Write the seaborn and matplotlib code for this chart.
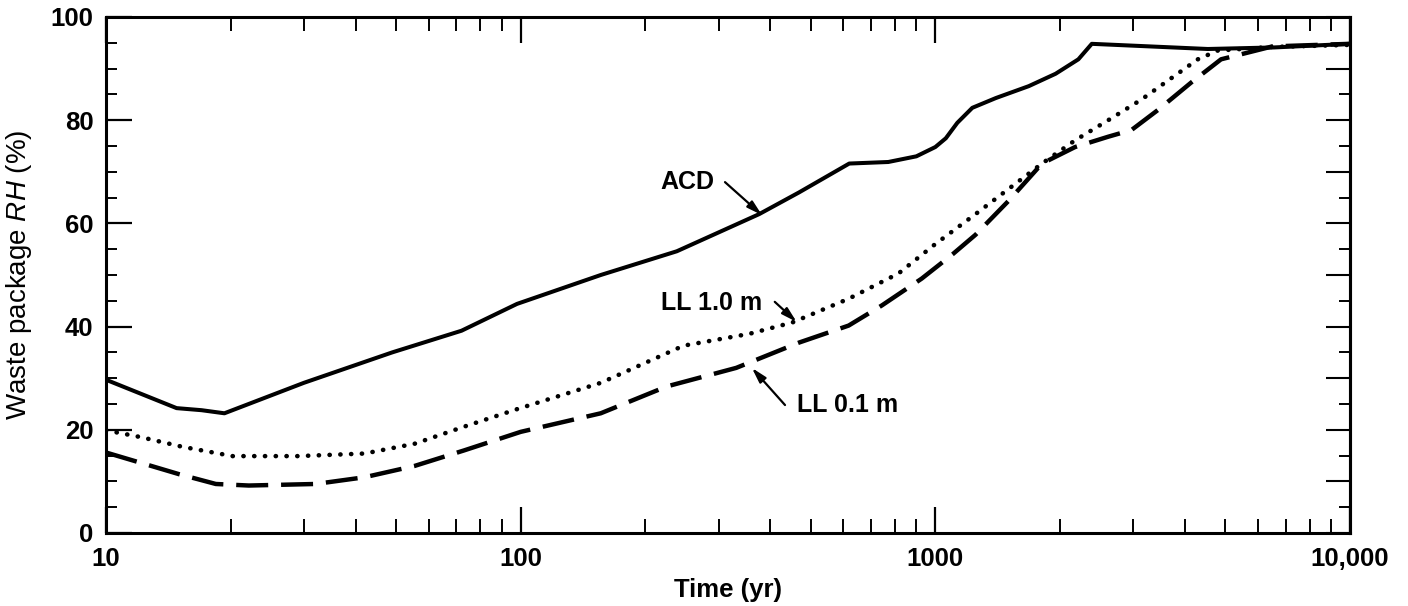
import matplotlib
matplotlib.use("Agg")
import matplotlib.pyplot as plt
from matplotlib.ticker import FixedLocator, FixedFormatter, MultipleLocator, NullFormatter, LogLocator
import seaborn as sns
import pandas as pd

# ---- data ----
acd_t = [10, 14.8, 17, 19.3, 30, 49, 72, 98, 156, 238, 376, 469, 620, 770, 900, 1000, 1060, 1130, 1228, 1400, 1680, 1950, 2213, 2384, 4540, 6560, 10000]
acd_v = [29.7, 24.2, 23.8, 23.2, 29.1, 35.0, 39.2, 44.4, 50.0, 54.6, 61.8, 66.0, 71.6, 71.9, 73.0, 74.8, 76.5, 79.5, 82.4, 84.3, 86.6, 89.0, 91.8, 94.8, 93.8, 94.1, 94.8]

ll10_t = [10, 12.1, 15.3, 20.2, 29, 42, 55.5, 73, 98, 156, 247, 356, 452, 618, 815, 1000, 1250, 1503, 1808, 2173, 2612, 3140, 3776, 4296, 4800, 6500, 10000]
ll10_v = [19.9, 18.6, 16.7, 14.9, 14.9, 15.4, 17.3, 20.6, 24.0, 29.1, 36.3, 38.6, 40.8, 45.4, 50.3, 56.0, 61.8, 66.7, 71.6, 76.1, 80.0, 84.0, 88.6, 91.8, 93.5, 94.2, 94.6]

ll01_t = [10, 15, 18.4, 22.1, 32, 42, 55.5, 73, 100, 156, 225, 331, 469, 618, 743, 927, 1100, 1250, 1503, 1808, 2173, 2612, 2972, 3445, 4140, 4887, 6500, 10000]
ll01_v = [15.6, 11.4, 9.5, 9.2, 9.5, 10.8, 13.0, 16.0, 19.6, 23.2, 28.4, 32.0, 36.9, 40.2, 44.1, 49.3, 54.0, 57.8, 64.4, 71.6, 74.8, 76.8, 78.1, 82.0, 87.3, 91.8, 94.3, 94.8]

x_ticks = [10, 100, 1000, 10000]
x_tick_labels = ["10", "100", "1000", "10,000"]
y_ticks = [0, 20, 40, 60, 80, 100]

# annotation positions (data coords): text, arrow start, arrow tip
ann_text = ["ACD", "LL 1.0 m", "LL 0.1 m"]
ann_text_xy = [(253, 68.0), (289, 44.6), (615, 24.8)]
ann_from = [(311, 68.0), (410, 44.8), (434, 24.8)]
ann_to = [(382, 61.6), (463, 40.9), (361, 32.0)]

# ---- style ----
sns.set_style("ticks")
plt.rcParams["font.family"] = ["Liberation Sans", "DejaVu Sans"]
plt.rcParams["mathtext.fontset"] = "custom"
plt.rcParams["mathtext.it"] = "Liberation Sans:italic"
plt.rcParams["mathtext.rm"] = "Liberation Sans"
for k in ["text.color", "axes.labelcolor", "xtick.color", "ytick.color", "axes.edgecolor"]:
    plt.rcParams[k] = "black"

fig = plt.figure(figsize=(14.08, 6.06), dpi=100)
ax = fig.add_axes([106 / 1408, 1 - 533 / 606, (1350 - 106) / 1408, (533 - 17) / 606])

df_acd = pd.DataFrame({"t": acd_t, "v": acd_v})
df_10 = pd.DataFrame({"t": ll10_t, "v": ll10_v})
df_01 = pd.DataFrame({"t": ll01_t, "v": ll01_v})

sns.lineplot(data=df_acd, x="t", y="v", ax=ax, color="black", linewidth=2.9,
             linestyle="-", solid_joinstyle="round", solid_capstyle="round")
sns.lineplot(data=df_10, x="t", y="v", ax=ax, color="black", linewidth=3.3,
             linestyle=(0, (0.05, 2.3)), dash_capstyle="round")
sns.lineplot(data=df_01, x="t", y="v", ax=ax, color="black", linewidth=3.2,
             linestyle=(0, (7.2, 2.9)), dash_capstyle="butt")

ax.set_xscale("log")
ax.set_xlim(10, 10000)
ax.set_ylim(0, 100)

ax.xaxis.set_major_locator(FixedLocator(x_ticks))
ax.xaxis.set_major_formatter(FixedFormatter(x_tick_labels))
ax.xaxis.set_minor_locator(LogLocator(base=10, subs=[2, 3, 4, 5, 6, 7, 8, 9]))
ax.xaxis.set_minor_formatter(NullFormatter())
ax.yaxis.set_major_locator(FixedLocator(y_ticks))
ax.yaxis.set_minor_locator(MultipleLocator(5))

for sp in ax.spines.values():
    sp.set_linewidth(2.2)
    sp.set_visible(True)

ax.tick_params(axis="x", which="major", direction="in", length=19, width=1.6,
               top=True, bottom=True, pad=10, labelsize=18.5)
ax.tick_params(axis="x", which="minor", direction="in", length=10, width=1.4,
               top=True, bottom=True)
ax.tick_params(axis="y", which="major", direction="in", length=19, width=1.6,
               left=True, right=False, pad=9, labelsize=18.5)
ax.tick_params(axis="y", which="minor", direction="in", length=8, width=1.4,
               left=True, right=False)
for lab in ax.get_xticklabels() + ax.get_yticklabels():
    lab.set_fontweight("bold")

sec = ax.secondary_yaxis("right")
sec.yaxis.set_major_locator(MultipleLocator(10))
sec.yaxis.set_minor_locator(MultipleLocator(5))
sec.yaxis.set_major_formatter(NullFormatter())
sec.tick_params(which="major", direction="in", length=17, width=1.5)
sec.tick_params(which="minor", direction="in", length=8, width=1.4)
sec.spines["right"].set_linewidth(2.2)

ax.set_xlabel("Time (yr)", fontsize=18.5, fontweight="bold")
ax.xaxis.set_label_coords(0.5, -0.088)
ax.set_ylabel("Waste package $\\mathit{RH}$ (%)", fontsize=20)
ax.yaxis.set_label_coords(-0.058, 0.5)

for txt, txy, a0, a1 in zip(ann_text, ann_text_xy, ann_from, ann_to):
    ax.text(txy[0], txy[1], txt, fontsize=18, fontweight="bold",
            ha="center", va="center")
    ax.annotate("", xy=a1, xytext=a0,
                arrowprops=dict(arrowstyle="-|>,head_length=0.9,head_width=0.25",
                                color="black", lw=1.6, shrinkA=0, shrinkB=0))

fig.savefig("out.png", dpi=100)
